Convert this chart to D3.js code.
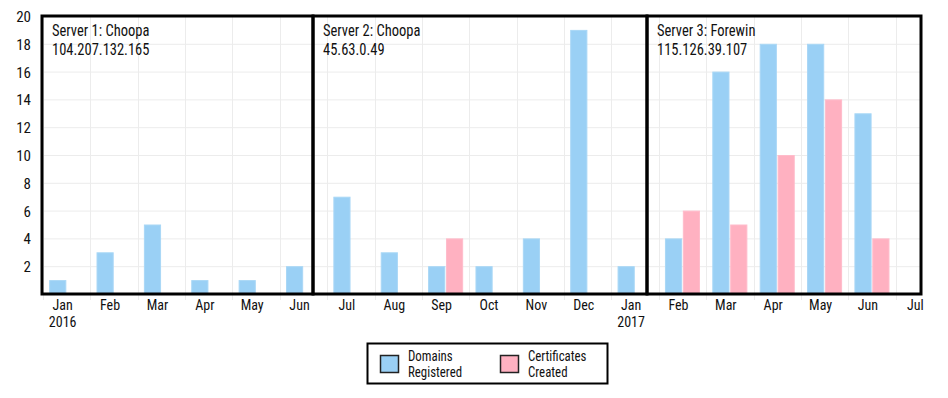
<!DOCTYPE html>
<html>
<head>
<meta charset="utf-8">
<script src="https://cdn.jsdelivr.net/npm/d3@7"></script>
<style>
  html, body { margin: 0; padding: 0; background: #fff; }
  svg { display: block; }
  text { font-family: "Roboto Condensed", "Roboto", sans-serif; fill: #111; }
</style>
</head>
<body>
<svg id="chart" width="948" height="398"></svg>
<script>
// ---- data ----
const months = ["Jan","Feb","Mar","Apr","May","Jun","Jul","Aug","Sep","Oct","Nov","Dec",
                "Jan","Feb","Mar","Apr","May","Jun","Jul"];
const years  = ["2016","","","","","","","","","","","","2017","","","","","",""];
const domainsRegistered   = [1,3,5,1,1,2, 7,3,2,2,4,19,2, 4,16,18,18,13,0];
const certificatesCreated = [0,0,0,0,0,0, 0,0,4,0,0,0,0, 6,5,10,14,4,0];
const seriesNames = ["Domains Registered", "Certificates Created"];
const legendLines = [["Domains","Registered"],["Certificates","Created"]];
const panelTitles = [["Server 1: Choopa","104.207.132.165"],
                     ["Server 2: Choopa","45.63.0.49"],
                     ["Server 3: Forewin","115.126.39.107"]];
const yTicks = [2,4,6,8,10,12,14,16,18,20];

// ---- layout ----
const colors = ["#9AD0F5", "#FFB1C1"];
const strokes = ["#a9d7f6", "#ffbccb"];
const plotTop = 16, plotBottom = 294;
const panelEdges = [42, 313, 647, 921];

const svg = d3.select("#chart");
const keys = months.map((m, i) => i);

const x = d3.scaleBand().domain(keys).range([43, 943]).paddingInner(0.26).paddingOuter(0.13);
const x1 = d3.scaleBand().domain(seriesNames).range([0, x.bandwidth()]).paddingInner(0.04);
const y = d3.scaleLinear().domain([0, 20]).range([plotBottom, plotTop]);

const data = keys.map(i => ({ i, values: [domainsRegistered[i], certificatesCreated[i]] }));

// clip
svg.append("defs").append("clipPath").attr("id", "plotclip")
  .append("rect").attr("x", panelEdges[0]).attr("y", plotTop)
  .attr("width", panelEdges[3] - panelEdges[0]).attr("height", plotBottom - plotTop);

// grid
const grid = svg.append("g").attr("clip-path", "url(#plotclip)");
grid.selectAll("line.h").data(yTicks).join("line")
  .attr("x1", panelEdges[0]).attr("x2", panelEdges[3])
  .attr("y1", d => y(d) + 0.5).attr("y2", d => y(d) + 0.5)
  .attr("stroke", "#ececec").attr("stroke-width", 1);
const step = x.step();
const gridXs = keys.map(i => Math.round(x(i) - x.paddingOuter() * step) + 0.5);
grid.selectAll("line.v").data(gridXs).join("line")
  .attr("x1", d => d).attr("x2", d => d)
  .attr("y1", plotTop).attr("y2", plotBottom)
  .attr("stroke", "#ececec").attr("stroke-width", 1);
// tick marks below axis
svg.append("g").selectAll("line").data(gridXs.filter(d => d < panelEdges[3])).join("line")
  .attr("x1", d => d).attr("x2", d => d)
  .attr("y1", plotBottom).attr("y2", plotBottom + 6)
  .attr("stroke", "#ececec").attr("stroke-width", 1);

// bars
const groups = svg.append("g").attr("clip-path", "url(#plotclip)")
  .selectAll("g").data(data).join("g")
  .attr("transform", d => `translate(${x(d.i)},0)`);
groups.selectAll("rect").data(d => d.values.map((v, s) => ({ v, s })).filter(e => e.v > 0)).join("rect")
  .attr("x", e => x1(seriesNames[e.s]) + 0.5)
  .attr("width", x1.bandwidth() - 1)
  .attr("y", e => y(e.v) + 0.5)
  .attr("height", e => y(0) - y(e.v) - 0.5)
  .attr("fill", e => colors[e.s])
  .attr("stroke", e => strokes[e.s])
  .attr("stroke-width", 1);

// y-axis labels
const yAxis = d3.axisLeft(y).tickValues(yTicks).tickSize(0).tickPadding(0);
const yg = svg.append("g").attr("transform", "translate(31,0)").call(yAxis);
yg.select(".domain").remove();
yg.selectAll("text").style("font-size", "15px").style("font-family", '"Roboto Condensed", Roboto, sans-serif')
  .attr("dy", "0.36em").attr("fill", "#111");

// x labels
const labX = i => x(i) + x.bandwidth() / 2 - 4;
const xl = svg.append("g");
xl.selectAll("text.m").data(keys).join("text")
  .attr("class", "m")
  .attr("x", labX).attr("y", 310)
  .attr("text-anchor", "middle")
  .style("font-size", "14px")
  .text(i => months[i]);
xl.selectAll("text.yr").data(keys.filter(i => years[i])).join("text")
  .attr("class", "yr")
  .attr("x", labX).attr("y", 327)
  .attr("text-anchor", "middle")
  .style("font-size", "14px")
  .text(i => years[i]);

// panels
for (let p = 0; p < 3; p++) {
  const x0 = panelEdges[p], xe = panelEdges[p + 1];
  svg.append("rect").attr("x", x0).attr("y", plotTop)
    .attr("width", xe - x0).attr("height", plotBottom - plotTop)
    .attr("fill", "none").attr("stroke", "#000").attr("stroke-width", 3);
  const tg = svg.append("g").attr("transform", `translate(${x0 + 10},0) scale(0.88,1)`);
  const t = tg.append("text").attr("x", 0).attr("y", 36).style("font-size", "16.5px");
  t.append("tspan").text(panelTitles[p][0]);
  t.append("tspan").attr("x", 0).attr("dy", 19).text(panelTitles[p][1]);
}

// legend
const lg = svg.append("g");
lg.append("rect").attr("x", 367.5).attr("y", 343.5).attr("width", 240).attr("height", 40)
  .attr("fill", "#fff").attr("stroke", "#000").attr("stroke-width", 2);
const legX = [380, 500];
seriesNames.forEach((s, k) => {
  lg.append("rect").attr("x", legX[k] + 0.5).attr("y", 355.5).attr("width", 18).attr("height", 17)
    .attr("fill", colors[k]).attr("stroke", "#222").attr("stroke-width", 1.5);
  const tg = lg.append("g").attr("transform", `translate(${legX[k] + 28},0) scale(0.92,1)`);
  const t = tg.append("text").attr("x", 0).attr("y", 361).style("font-size", "14px");
  t.append("tspan").text(legendLines[k][0]);
  t.append("tspan").attr("x", 0).attr("dy", 16).text(legendLines[k][1]);
});
</script>
</body>
</html>
